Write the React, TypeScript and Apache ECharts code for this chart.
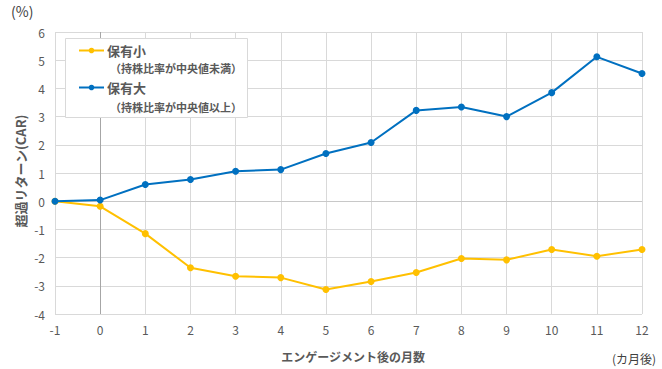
import React, { useEffect, useRef } from "react";
import * as echarts from "echarts";

const months = ["-1", "0", "1", "2", "3", "4", "5", "6", "7", "8", "9", "10", "11", "12"];
const smallHolding = [0, -0.18, -1.15, -2.36, -2.66, -2.71, -3.13, -2.85, -2.53, -2.03, -2.08, -1.71, -1.95, -1.71];
const largeHolding = [0, 0.04, 0.59, 0.77, 1.06, 1.12, 1.69, 2.08, 3.22, 3.34, 3.0, 3.85, 5.12, 4.53];
const seriesNames = ["保有小", "保有大"];
const seriesSubNames = ["（持株比率が中央値未満）", "（持株比率が中央値以上）"];

const FONT = "'Noto Sans CJK JP', 'Noto Sans', sans-serif";

export default function App() {
  const ref = useRef<HTMLDivElement>(null);
  useEffect(() => {
    if (!ref.current) return;
    const chart = echarts.init(ref.current, null, { renderer: "svg" });
    chart.setOption({
      animation: false,
      backgroundColor: "#ffffff",
      textStyle: { fontFamily: FONT },
      grid: { left: 55, right: 20, top: 32, bottom: 55, containLabel: false },
      xAxis: {
        type: "category",
        data: months,
        boundaryGap: false,
        axisLine: { show: false },
        axisTick: { show: false },
        axisLabel: { color: "#595959", fontSize: 12, margin: 9, fontFamily: FONT },
        splitLine: { show: true, lineStyle: { color: "#D9D9D9", width: 1 } },
      },
      yAxis: {
        type: "value",
        min: -4,
        max: 6,
        interval: 1,
        axisLine: { show: false },
        axisTick: { show: false },
        axisLabel: { color: "#595959", fontSize: 12, margin: 10, fontFamily: FONT },
        splitLine: { show: true, lineStyle: { color: "#D9D9D9", width: 1 } },
      },
      legend: {
        show: true,
        orient: "vertical",
        left: 78,
        top: 44,
        itemWidth: 25,
        itemHeight: 7,
        itemGap: 24,
        padding: 0,
        z: 6,
        data: seriesNames,
        textStyle: { color: "#595959", fontSize: 13, fontWeight: "bold", fontFamily: FONT, padding: [0, 0, 0, -2] },
      },
      graphic: [
        {
          type: "rect",
          z: 5,
          shape: { x: 65.5, y: 38.5, width: 182, height: 79 },
          style: { fill: "#ffffff", stroke: "#D9D9D9", lineWidth: 1 },
        },
        {
          type: "text",
          z: 7,
          left: 110,
          top: 62,
          style: { text: seriesSubNames[0], fill: "#595959", font: `bold 11px ${FONT}` },
        },
        {
          type: "text",
          z: 7,
          left: 110,
          top: 101,
          style: { text: seriesSubNames[1], fill: "#595959", font: `bold 11px ${FONT}` },
        },
        {
          type: "text",
          left: 11,
          top: 4,
          style: { text: "(%)", fill: "#404040", font: `14px ${FONT}` },
        },
        {
          type: "text",
          left: 612,
          top: 352,
          style: { text: "(カ月後)", fill: "#404040", font: `12px ${FONT}` },
        },
        {
          type: "text",
          z: 7,
          x: 20,
          y: 171,
          rotation: Math.PI / 2,
          style: {
            text: "超過リターン(CAR)",
            fill: "#595959",
            font: `bold 13px ${FONT}`,
            align: "center",
            verticalAlign: "middle",
          },
        },
      ],
      series: [
        {
          name: seriesNames[0],
          type: "line",
          data: smallHolding,
          color: "#FFC000",
          symbol: "circle",
          symbolSize: 7,
          lineStyle: { width: 2, color: "#FFC000" },
          itemStyle: { color: "#FFC000" },
          z: 3,
          markLine: {
            silent: true,
            symbol: "none",
            label: { show: false },
            z: 1,
            data: [
              { xAxis: "0", lineStyle: { color: "#A6A6A6", width: 1, type: "solid" } },
              { yAxis: 0, lineStyle: { color: "#C8C8C8", width: 1, type: "solid" } },
            ],
          },
        },
        {
          name: seriesNames[1],
          type: "line",
          data: largeHolding,
          color: "#0070C0",
          symbol: "circle",
          symbolSize: 7,
          lineStyle: { width: 2, color: "#0070C0" },
          itemStyle: { color: "#0070C0" },
          z: 4,
        },
      ],
      title: [
        {
          text: "エンゲージメント後の月数",
          left: 348,
          textAlign: "center",
          top: 345,
          textStyle: { color: "#595959", fontSize: 12, fontWeight: "bold", fontFamily: FONT },
        },
      ],
    });
    return () => chart.dispose();
  }, []);
  return <div ref={ref} style={{ width: 662, height: 369, position: "absolute", left: 0, top: 0 }} />;
}
